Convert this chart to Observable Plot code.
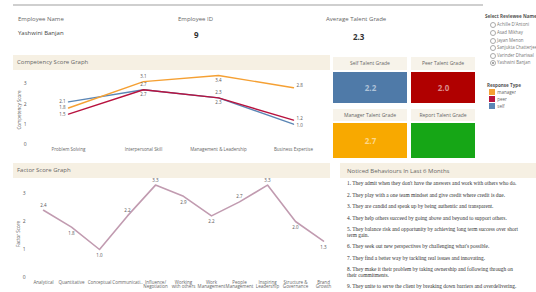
<!DOCTYPE html>
<html><head><meta charset="utf-8">
<script src="https://cdn.jsdelivr.net/npm/d3@7"></script>
<script src="https://cdn.jsdelivr.net/npm/@observablehq/plot@0.6"></script>
<style>
html,body{margin:0;padding:0}
body{width:536px;height:292px;overflow:hidden;background:#fff;font-family:"Open Sans",sans-serif;color:#555;position:relative}
.a{position:absolute}
.band{position:absolute;background:#f6f0e3}
.t{position:absolute;white-space:nowrap;line-height:1}
.rot{position:absolute;white-space:nowrap;line-height:1;transform:translate(-50%,-50%) rotate(-90deg);font-size:4.5px;color:#555}
#beh{position:absolute;left:347px;top:181px;width:174px;font-family:"Liberation Serif",serif;font-size:5.4px;line-height:5.5px;color:#333}
#beh div{margin-bottom:6px}
.radio{position:absolute;width:4px;height:4px;border:0.6px solid #aaa;border-radius:50%;background:#fff}
.radio.on::after{content:"";position:absolute;left:1px;top:1px;width:2px;height:2px;border-radius:50%;background:#888}
</style></head><body>
<script>
// ---------- data ----------
const employeeName = "Yashwini Banjan";
const employeeId = "9";
const averageTalentGrade = "2.3";

const competencies = ["Problem Solving","Interpersonal Skill","Management & Leadership","Business Expertise"];
const responseTypes = ["manager","peer","self"];
const responseColors = ["#f5a033","#b8123e","#5b86b5"];
const managerScores = [1.8,3.1,3.4,2.8];
const peerScores = [1.5,2.7,2.3,1.2];
const selfScores = [2.1,2.7,2.3,1.0];
const competencyTicks = [0,1,2,3];

const factors = ["Analytical","Quantitative","Conceptual","Communication","Influence/Negotiation","Working with others","Work Management","People Management","Inspiring Leadership","Structure & Governance","Brand Growth"];
const factorTickLabels = ["Analytical","Quantitative","Conceptual","Communicati..","Influence/\nNegotiation","Working\nwith others","Work\nManagement","People\nManagement","Inspiring\nLeadership","Structure &\nGovernance","Brand\nGrowth"];
const factorScores = [2.4,1.8,1.0,2.2,3.3,2.9,2.2,2.7,3.3,2.0,1.3];
const factorTicks = [0,1,2,3];
const factorColor = "#c19bb0";

const gradeNames = ["Self Talent Grade","Peer Talent Grade","Manager Talent Grade","Report Talent Grade"];
const gradeValues = [2.2,2.0,2.7,null];
const gradeColors = ["#4f7aa8","#b00000","#f8a900","#16a616"];

const reviewees = ["Achille D'Antoni","Asad Mikhay","Jayan Menon","Sanjukta Chatterjee","Varinder Dhariwal","Yashwini Banjan"];
const behaviours = [
 "1. They admit when they don't have the answers and work with others who do.",
 "2. They play with a one team mindset and give credit where credit is due.",
 "3. They are candid and speak up by being authentic and transparent.",
 "4. They help others succeed by going above and beyond to support others.",
 "5. They balance risk and opportunity by achieving long term success over short term gain.",
 "6. They seek out new perspectives by challenging what's possible.",
 "7. They find a better way by tackling real issues and innovating.",
 "8. They make it their problem by taking ownership and following through on their commitments.",
 "9. They unite to serve the client by breaking down barriers and overdelivering."
];

// ---------- helpers ----------
const body = document.body;
function el(tag, cls, css, text){
  const e = document.createElement(tag);
  if (cls) e.className = cls;
  Object.assign(e.style, css||{});
  if (text != null) e.textContent = text;
  body.appendChild(e);
  return e;
}
function place(node, left, top){
  const w = document.createElement("div");
  w.className = "a";
  w.style.left = left + "px"; w.style.top = top + "px";
  w.appendChild(node);
  body.appendChild(w);
  return w;
}
const baseStyle = {fontFamily:"'Open Sans', sans-serif", fontSize:"4.5px", color:"#666", background:"transparent", overflow:"visible"};

// ---------- header ----------
el("div","a",{left:"13px",top:"4px",width:"470px",height:"2px",background:"#cfcfcf"});
el("div","t",{left:"18px",top:"16px",fontSize:"6px",color:"#666"},"Employee Name");
el("div","t",{left:"18px",top:"30px",fontSize:"6px",color:"#444"},employeeName);
el("div","t",{left:"178px",top:"16px",fontSize:"6px",color:"#666"},"Employee ID");
el("div","t",{left:"194px",top:"31px",fontSize:"8px",fontWeight:"bold",color:"#333"},employeeId);
el("div","t",{left:"326px",top:"16px",fontSize:"6px",color:"#666"},"Average Talent Grade");
el("div","t",{left:"353px",top:"33px",fontSize:"8px",fontWeight:"bold",color:"#333"},averageTalentGrade);

// ---------- right panel ----------
el("div","t",{left:"485px",top:"14px",fontSize:"4.6px",fontWeight:"bold",color:"#555"},"Select Reviewee Name");
const radioY = [24,32,40,47,55,62];
reviewees.forEach((r,i)=>{
  el("div","radio"+(r===employeeName?" on":""),{left:"489.5px",top:(radioY[i]-2.5)+"px"});
  el("div","t",{left:"497px",top:(radioY[i]-2.3)+"px",fontSize:"4.4px",color:"#777"},r);
});
el("div","t",{left:"487px",top:"82.5px",fontSize:"4.6px",fontWeight:"bold",color:"#555"},"Response Type");
const legend = Plot.legend({color:{domain:responseTypes, range:responseColors}, legend:"swatches", columns:1, swatchSize:6,
  style:{fontSize:"4.5px", fontFamily:"'Open Sans', sans-serif", color:"#666", margin:"0", lineHeight:"6px"}});
place(legend, 489, 88.5);

// ---------- competency chart ----------
el("div","band",{left:"13px",top:"55px",width:"317px",height:"15px"});
el("div","t",{left:"17px",top:"59px",fontSize:"6px",color:"#666"},"Competency Score Graph");

const seriesList = [["self",selfScores],["manager",managerScores],["peer",peerScores]];
const comp = seriesList.flatMap(([t,vals]) => vals.map((v,i)=>({type:t, competency:competencies[i], score:v, idx:i})));
const nC = competencies.length;
function labelPos(d){
  if (d.idx===0) return "left";
  if (d.idx===nC-1) return "right";
  if (d.type==="self") return "above";
  if (d.type==="peer") return "below";
  return d.score > 3.3 ? "below" : "above";
}
const lbl = d => d.score.toFixed(1);
const compPlot = Plot.plot({
  width:317, height:85, marginLeft:17, marginRight:0, marginTop:3, marginBottom:11,
  style: baseStyle,
  x:{type:"point", domain:competencies, padding:0.5, label:null, tickSize:0, tickPadding:3},
  y:{domain:[0,3.5], axis:null},
  color:{domain:responseTypes, range:responseColors},
  marks:[
    Plot.line(comp, {x:"competency", y:"score", z:"type", stroke:"type", strokeWidth:1.4}),
    Plot.text(comp.filter(d=>labelPos(d)==="left"), {x:"competency", y:"score", text:lbl, textAnchor:"end", dx:-3, fill:"#555"}),
    Plot.text(comp.filter(d=>labelPos(d)==="right" && d.type!=="self"), {x:"competency", y:"score", text:lbl, textAnchor:"start", dx:3, dy:-2, fill:"#555"}),
    Plot.text(comp.filter(d=>labelPos(d)==="right" && d.type==="self"), {x:"competency", y:"score", text:lbl, textAnchor:"start", dx:3, dy:1, fill:"#555"}),
    Plot.text(comp.filter(d=>labelPos(d)==="above"), {x:"competency", y:"score", text:lbl, dy:-5, fill:"#555"}),
    Plot.text(comp.filter(d=>labelPos(d)==="below"), {x:"competency", y:"score", text:lbl, dy:5, fill:"#555"}),
    Plot.axisY({ticks:competencyTicks.length, tickSize:0, tickPadding:4, label:null, fill:"#555", fontSize:5})
  ]
});
place(compPlot, 13, 70);
el("div","rot",{left:"19px",top:"110px"},"Competency Score");

// ---------- talent grade tiles ----------
const tileBoxes = [[333,72,74,31],[411,72,64,31],[333,123,74,35],[411,123,64,35]];
const headerBoxes = [[333,57,74,13],[411,57,64,13],[333,109,74,12],[411,109,64,12]];
gradeNames.forEach((g,i)=>{
  const [hx,hy,hw,hh] = headerBoxes[i];
  el("div","band",{left:hx+"px",top:hy+"px",width:hw+"px",height:hh+"px",background:"#f7f3ea"});
  el("div","t",{left:hx+"px",top:(hy+hh/2-2.5)+"px",width:hw+"px",textAlign:"center",fontSize:"5px",color:"#666"},g);
  const [x,y,w,h] = tileBoxes[i];
  const datum = [{name:g, value:gradeValues[i], color:gradeColors[i]}];
  const p = Plot.plot({
    width:w, height:h, margin:0, style:{...baseStyle, fontSize:"8px"},
    x:{type:"band", domain:[g], padding:0, axis:null},
    color:{type:"identity"},
    marks:[
      Plot.cell(datum, {x:"name", fill:"color"}),
      Plot.text(datum.filter(d=>d.value!=null), {x:"name", frameAnchor:"middle", text:d=>d.value.toFixed(1),
        fill:d=>d3.interpolateRgb(d.color,"#ffffff")(0.55), fontWeight:"bold"})
    ]
  });
  place(p, x, y);
});

// ---------- factor chart ----------
el("div","band",{left:"13px",top:"163px",width:"317px",height:"15px"});
el("div","t",{left:"17px",top:"167px",fontSize:"6px",color:"#666"},"Factor Score Graph");
const fac = factors.map((f,i)=>({factor:f, score:factorScores[i], idx:i}));
const below = d => d.idx>0 && d.score < factorScores[d.idx-1];
const factorPlot = Plot.plot({
  width:324, height:114, marginLeft:16, marginRight:0, marginTop:1, marginBottom:15,
  style: baseStyle,
  x:{type:"point", domain:factors, padding:0.5, label:null, tickSize:0, tickPadding:3,
     tickFormat:(d)=>factorTickLabels[factors.indexOf(d)]},
  y:{domain:[0,3.5], axis:null},
  marks:[
    Plot.line(fac, {x:"factor", y:"score", stroke:factorColor, strokeWidth:1.6}),
    Plot.text(fac.filter(d=>!below(d)), {x:"factor", y:"score", text:lbl, dy:-5, fill:"#555"}),
    Plot.text(fac.filter(d=>below(d)), {x:"factor", y:"score", text:lbl, dy:6, fill:"#555"}),
    Plot.axisY({ticks:factorTicks.length, tickSize:0, tickPadding:4, label:null, fill:"#555", fontSize:5})
  ]
});
place(factorPlot, 13, 178);
el("div","rot",{left:"18px",top:"234px"},"Factor Score");

// ---------- behaviours ----------
el("div","band",{left:"340px",top:"163px",width:"196px",height:"15px"});
el("div","t",{left:"347px",top:"167.5px",fontSize:"6px",color:"#666"},"Noticed  Behaviours  In Last 6 Months");
const beh = el("div",null,{}); beh.id = "beh";
behaviours.forEach(b=>{ const d=document.createElement("div"); d.textContent=b; beh.appendChild(d); });
</script>
</body></html>
